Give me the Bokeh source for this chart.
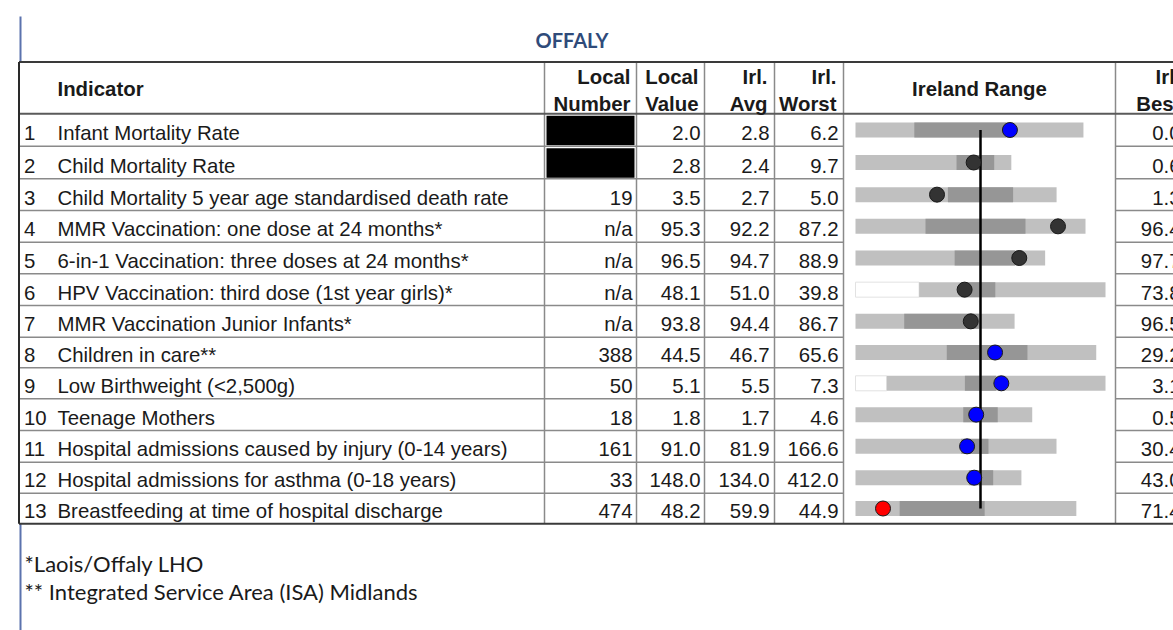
from bokeh.plotting import figure
from bokeh.models import Range1d
from bokeh.core.properties import value
from bokeh.embed import file_html
from bokeh.resources import INLINE

# ---------------- data ----------------
title = "OFFALY"
indicators = [
    "Infant Mortality Rate",
    "Child Mortality Rate",
    "Child Mortality 5 year age standardised death rate",
    "MMR Vaccination: one dose at 24 months*",
    "6-in-1 Vaccination: three doses at 24 months*",
    "HPV Vaccination: third dose (1st year girls)*",
    "MMR Vaccination Junior Infants*",
    "Children in care**",
    "Low Birthweight (<2,500g)",
    "Teenage Mothers",
    "Hospital admissions caused by injury (0-14 years)",
    "Hospital admissions for asthma (0-18 years)",
    "Breastfeeding at time of hospital discharge",
]
local_number = [None, None, "19", "n/a", "n/a", "n/a", "n/a", "388", "50", "18", "161", "33", "474"]
local_value = [2.0, 2.8, 3.5, 95.3, 96.5, 48.1, 93.8, 44.5, 5.1, 1.8, 91.0, 148.0, 48.2]
irl_avg = [2.8, 2.4, 2.7, 92.2, 94.7, 51.0, 94.4, 46.7, 5.5, 1.7, 81.9, 134.0, 59.9]
irl_worst = [6.2, 9.7, 5.0, 87.2, 88.9, 39.8, 86.7, 65.6, 7.3, 4.6, 166.6, 412.0, 44.9]
irl_best = [0.0, 0.6, 1.3, 96.4, 97.7, 73.8, 96.5, 29.2, 3.1, 0.5, 30.4, 43.0, 71.4]
# interquartile band (worse-side end, better-side end)
q_worse = [4.6, 3.8, 3.3, 90.0, 93.5, 47.5, 89.7, 51.8, 5.8, 2.1, 95.0, 160.0, 50.2]
q_better = [2.1, 1.6, 2.1, 94.0, 96.3, 53.7, 94.3, 39.6, 5.2, 1.3, 76.5, 105.8, 60.4]
significance = ["better", "similar", "similar", "similar", "similar", "similar", "similar",
                "better", "better", "better", "better", "better", "worse"]
header_cols = [("Local", "Number"), ("Local", "Value"), ("Irl.", "Avg"), ("Irl.", "Worst")]
range_header = "Ireland Range"
best_header = ("Irl.", "Best")
footnotes = ["*Laois/Offaly LHO", "** Integrated Service Area (ISA) Midlands"]

# ---------------- layout (page pixels) ----------------
W, H = 1173, 630
row_edges = [113.3, 145.7, 178.3, 210.0, 241.7, 273.3, 305.0, 336.7, 367.3,
             398.3, 430.0, 461.7, 492.7, 523.3]
table_top, header_bot, table_bot = 61.5, row_edges[0], row_edges[-1]
left_x = 18.5
col_lines = [544, 636, 704, 774, 843, 1115]
right_x = W + 5
value_right = [632, 700, 769, 838]
best_right = 1180
spine_center, spine_half = 980, 125

FONT = value("Liberation Sans")
FS = "20.4px"
TXT = "#1a1a1a"
GRID = "#8a8a8a"

p = figure(width=W, height=H, x_range=Range1d(0, W), y_range=Range1d(H, 0),
           output_backend="svg", toolbar_location=None, x_axis_type=None,
           y_axis_type=None, min_border=0)
p.grid.visible = False
p.outline_line_color = None
p.background_fill_color = "white"
p.border_fill_color = "white"
p.extra_x_ranges = {"spine": Range1d(-1 - (spine_center - spine_half) / spine_half,
                                     1 + (W - spine_center - spine_half) / spine_half)}

n = len(indicators)
row_top = row_edges[:-1]
row_bot = row_edges[1:]
row_mid = [(a + b) / 2 for a, b in zip(row_top, row_bot)]
text_mid = [b - 13 for b in row_bot]

# page margin line (blue)
p.segment(x0=[20, 20], x1=[20, 20], y0=[16, table_bot], y1=[table_top, H],
          line_color="#5b72ad", line_width=2)

# black boxes for suppressed local numbers
bi = [i for i in range(n) if local_number[i] is None]
p.quad(left=[col_lines[0] + 2] * len(bi), right=[col_lines[1] - 2] * len(bi),
       top=[row_top[i] + 2 for i in bi], bottom=[row_bot[i] - 1 for i in bi],
       fill_color="black", line_color=None)

# grid lines
x0s, x1s, y0s, y1s = [], [], [], []
for e in row_edges[1:-1]:
    x0s += [left_x, col_lines[5]]
    x1s += [col_lines[4], right_x]
    y0s += [e, e]
    y1s += [e, e]
p.segment(x0=x0s, x1=x1s, y0=y0s, y1=y1s, line_color=GRID, line_width=1.5)
p.segment(x0=col_lines, x1=col_lines, y0=[table_top] * len(col_lines),
          y1=[table_bot] * len(col_lines), line_color=GRID, line_width=1.5)
p.segment(x0=[left_x, left_x, left_x], x1=[right_x] * 3,
          y0=[table_top, header_bot, table_bot], y1=[table_top, header_bot, table_bot],
          line_color=["#3a3a3a", "#5a5a5a", "#3a3a3a"], line_width=2)
p.segment(x0=[left_x], x1=[left_x], y0=[table_top], y1=[table_bot],
          line_color="#2a2a2a", line_width=2)

# ---------------- spine chart ----------------
def norm(i, v):
    a = irl_avg[i]
    d = 1 if irl_best[i] > a else -1
    m = max(abs(irl_worst[i] - a), abs(irl_best[i] - a))
    return d * (v - a) / m

uw = [norm(i, irl_worst[i]) for i in range(n)]
ub = [norm(i, irl_best[i]) for i in range(n)]
qa = [norm(i, q_worse[i]) for i in range(n)]
qb = [norm(i, q_better[i]) for i in range(n)]
uv = [norm(i, local_value[i]) for i in range(n)]

pad = [i for i in range(n) if uw[i] > -0.999]
p.hbar(y=[row_mid[i] for i in pad], left=[-1] * len(pad), right=[uw[i] for i in pad],
       height=15, fill_color="white", line_color="#e2e2e2", line_width=1,
       x_range_name="spine")
p.hbar(y=row_mid, left=uw, right=ub, height=15, fill_color="#c0c0c0", line_color=None,
       x_range_name="spine")
p.hbar(y=row_mid, left=qa, right=qb, height=15, fill_color="#969696", line_color=None,
       x_range_name="spine")
p.segment(x0=[0], x1=[0], y0=[row_mid[0]], y1=[row_mid[-1]], line_color="black",
          line_width=2.5, x_range_name="spine")
cmap = {"better": "#0000ff", "similar": "#333333", "worse": "#ff0000"}
p.scatter(x=uv, y=row_mid, size=15, fill_color=[cmap[s] for s in significance],
          line_color="#1a1a1a", line_width=1, x_range_name="spine")

# ---------------- texts ----------------
def txt(x, y, t, align="left", bold=False, size=FS, font=FONT, color=TXT):
    p.text(x=x, y=y, text=t, text_font=font, text_font_size=size, text_align=align,
           text_baseline="middle", text_color=color,
           text_font_style="bold" if bold else "normal")

txt([571.5], [39], [title], align="center", bold=True, size="20px", font=value("Lato"),
    color="#2f4b7a")
txt([57], [88.5], ["Indicator"], bold=True)
for (l1, l2), xr in zip(header_cols, value_right):
    txt([xr - 2, xr - 2], [76.7, 103.3], [l1, l2], align="right", bold=True)
txt([(col_lines[4] + col_lines[5]) / 2], [88.5], [range_header], align="center", bold=True)
txt([best_right, best_right], [76.7, 103.3], list(best_header), align="right", bold=True)

txt([23.5] * n, text_mid, [str(i + 1) for i in range(n)])
txt([57] * n, text_mid, indicators)
ln_i = [i for i in range(n) if local_number[i] is not None]
txt([value_right[0]] * len(ln_i), [text_mid[i] for i in ln_i],
    [local_number[i] for i in ln_i], align="right")
txt([value_right[1]] * n, text_mid, [f"{v:.1f}" for v in local_value], align="right")
txt([value_right[2]] * n, text_mid, [f"{v:.1f}" for v in irl_avg], align="right")
txt([value_right[3]] * n, text_mid, [f"{v:.1f}" for v in irl_worst], align="right")
txt([best_right] * n, text_mid, [f"{v:.1f}" for v in irl_best], align="right")

txt([24, 24], [563, 591], footnotes, size="22px", font=value("Lato"))

open("out.html", "w").write(file_html(p, INLINE))
